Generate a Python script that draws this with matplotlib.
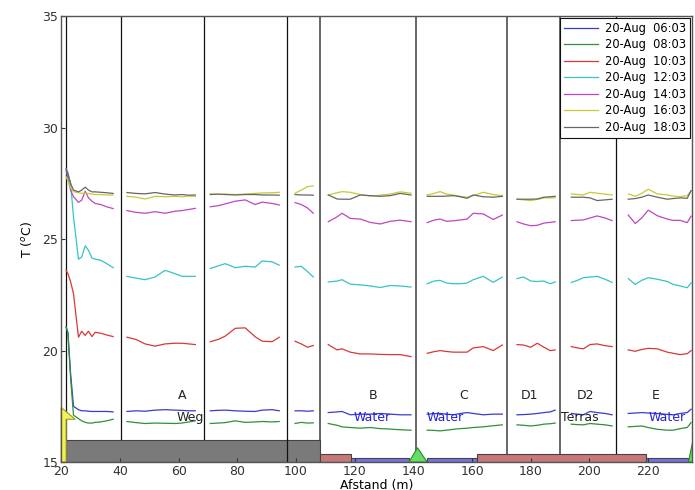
import matplotlib
matplotlib.use("Agg")
import matplotlib.pyplot as plt
import numpy as np
from matplotlib.patches import Rectangle, Polygon

plt.rcParams.update({
    "font.family": "DejaVu Sans", "font.size": 9,
    "xtick.direction": "in", "ytick.direction": "in",
    "xtick.major.size": 3, "ytick.major.size": 3,
})

# ---------- data: measurement segments (distance in m) ----------
X_SEGS = [
    [21.7, 22.3, 23.2, 24.2, 25.9, 27.0, 28.2, 29.3, 30.5, 31.6, 33.5, 35.5, 37.7],
    [42.4, 45.5, 48.6, 52.0, 55.4, 58.8, 61.1, 63.5, 65.7],
    [70.8, 73.5, 75.9, 79.3, 82.7, 86.1, 88.5, 91.9, 94.3],
    [99.7, 101.8, 103.9, 105.9],
    [111.0, 114.0, 115.7, 118.5, 121.9, 125.3, 128.7, 132.1, 135.5, 139.2],
    [144.7, 147.0, 149.1, 151.3, 153.6, 156.0, 158.3, 160.4, 163.8, 167.2, 170.3],
    [175.3, 177.5, 180.0, 182.2, 184.5, 186.6, 188.3],
    [193.8, 195.9, 197.9, 200.2, 202.6, 205.3, 207.7],
    [213.2, 215.6, 217.8, 220.0, 223.1, 226.5, 228.5, 230.9, 233.3, 234.6],
]

T_0603 = [
    [21.05, 20.8, 19.0, 17.5, 17.35, 17.3, 17.3, 17.28, 17.27, 17.27, 17.27, 17.27, 17.25],
    [17.27, 17.3, 17.28, 17.33, 17.35, 17.33, 17.32, 17.3, 17.3],
    [17.3, 17.32, 17.33, 17.3, 17.28, 17.27, 17.33, 17.35, 17.3],
    [17.3, 17.3, 17.28, 17.3],
    [17.22, 17.25, 17.27, 17.12, 17.15, 17.15, 17.18, 17.15, 17.12, 17.12],
    [17.15, 17.17, 17.18, 17.15, 17.12, 17.18, 17.22, 17.18, 17.12, 17.15, 17.15],
    [17.12, 17.13, 17.15, 17.18, 17.22, 17.25, 17.33],
    [17.18, 17.15, 17.12, 17.27, 17.22, 17.18, 17.12],
    [17.18, 17.2, 17.22, 17.2, 17.18, 17.14, 17.12, 17.18, 17.22, 17.37],
]
T_0803 = [
    [21.05, 20.8, 18.8, 17.1, 16.95, 16.85, 16.78, 16.75, 16.75, 16.78, 16.8, 16.85, 16.92],
    [16.82, 16.77, 16.73, 16.75, 16.74, 16.73, 16.75, 16.8, 16.85],
    [16.73, 16.75, 16.77, 16.85, 16.78, 16.8, 16.82, 16.8, 16.82],
    [16.73, 16.78, 16.75, 16.76],
    [16.73, 16.65, 16.58, 16.55, 16.52, 16.55, 16.5, 16.48, 16.45, 16.43],
    [16.43, 16.42, 16.4, 16.43, 16.47, 16.5, 16.52, 16.55, 16.58, 16.63, 16.67],
    [16.67, 16.65, 16.62, 16.65, 16.7, 16.72, 16.75],
    [16.7, 16.68, 16.67, 16.73, 16.7, 16.67, 16.62],
    [16.58, 16.6, 16.62, 16.55, 16.47, 16.43, 16.43, 16.5, 16.55, 16.77],
]
T_1003 = [
    [23.6, 23.45, 23.1, 22.55, 20.6, 20.87, 20.68, 20.87, 20.63, 20.82, 20.78, 20.7, 20.63],
    [20.6, 20.5, 20.3, 20.2, 20.3, 20.33, 20.33, 20.3, 20.27],
    [20.4, 20.5, 20.65, 21.0, 21.02, 20.62, 20.42, 20.4, 20.6],
    [20.42, 20.3, 20.15, 20.23],
    [20.27, 20.03, 20.08, 19.93, 19.85, 19.85, 19.83, 19.82, 19.82, 19.73],
    [19.88, 19.95, 20.0, 19.96, 19.93, 19.93, 19.93, 20.12, 20.18, 20.0, 20.25],
    [20.27, 20.25, 20.15, 20.33, 20.15, 20.0, 20.03],
    [20.18, 20.12, 20.08, 20.27, 20.3, 20.22, 20.18],
    [20.03, 19.97, 20.05, 20.1, 20.08, 19.93, 19.88, 19.82, 19.86, 20.0],
]
T_1203 = [
    [28.15, 28.0, 27.5, 26.0, 24.1, 24.2, 24.7, 24.5, 24.15, 24.1, 24.05, 23.9, 23.72],
    [23.33, 23.25, 23.18, 23.3, 23.6, 23.45, 23.33, 23.33, 23.33],
    [23.68, 23.8, 23.9, 23.72, 23.78, 23.75, 24.02, 23.98, 23.83],
    [23.75, 23.78, 23.55, 23.3],
    [23.08, 23.12, 23.18, 22.98, 22.95, 22.9, 22.83, 22.92, 22.9, 22.85],
    [23.0, 23.12, 23.15, 23.03, 23.0, 23.0, 23.03, 23.18, 23.33, 23.06, 23.3],
    [23.23, 23.3, 23.12, 23.1, 23.12, 23.0, 23.08],
    [23.06, 23.15, 23.27, 23.3, 23.33, 23.2, 23.06],
    [23.23, 22.97, 23.15, 23.27, 23.2, 23.1, 22.97, 22.9, 22.82, 23.03],
]
T_1403 = [
    [28.1, 27.7, 27.2, 26.9, 26.65, 26.75, 27.15, 26.85, 26.7, 26.6, 26.55, 26.45, 26.37],
    [26.28, 26.2, 26.16, 26.23, 26.16, 26.25, 26.28, 26.33, 26.38],
    [26.45, 26.5, 26.58, 26.7, 26.76, 26.55, 26.66, 26.6, 26.53],
    [26.64, 26.55, 26.4, 26.16],
    [25.78, 26.0, 26.16, 25.93, 25.9, 25.75, 25.68, 25.8, 25.85, 25.78],
    [25.74, 25.85, 25.9, 25.8, 25.82, 25.86, 25.9, 26.16, 26.13, 25.88, 26.08],
    [25.78, 25.68, 25.6, 25.62, 25.72, 25.75, 25.78],
    [25.83, 25.85, 25.86, 25.95, 26.04, 25.95, 25.83],
    [26.08, 25.7, 25.95, 26.3, 26.05, 25.9, 25.84, 25.84, 25.74, 26.03],
]
T_1603 = [
    [27.8, 27.6, 27.3, 27.13, 27.08, 27.05, 27.06, 27.05, 27.02, 27.0, 27.0, 26.98, 26.98],
    [26.92, 26.88, 26.8, 26.92, 26.9, 26.92, 26.9, 26.93, 26.92],
    [27.03, 27.0, 27.02, 27.0, 27.02, 27.05, 27.07, 27.08, 27.1],
    [27.06, 27.2, 27.35, 27.39],
    [26.98, 27.08, 27.13, 27.1, 27.0, 26.93, 26.97, 27.02, 27.12, 27.06],
    [26.98, 27.05, 27.13, 27.02, 26.98, 26.92, 26.88, 26.95, 27.1, 27.0, 26.95],
    [26.79, 26.76, 26.73, 26.78, 26.85, 26.85, 26.85],
    [27.03, 27.0, 26.98, 27.1, 27.06, 27.02, 26.98],
    [27.03, 26.92, 27.05, 27.24, 27.03, 26.98, 26.93, 26.9, 26.95, 27.17],
]
T_1803 = [
    [28.15, 27.9, 27.5, 27.2, 27.12, 27.2, 27.33, 27.2, 27.12, 27.12, 27.1, 27.08, 27.05],
    [27.09, 27.05, 27.03, 27.09, 27.02, 26.98, 27.0, 26.97, 26.98],
    [27.0, 27.02, 27.0, 26.98, 27.0, 27.0, 26.98, 26.98, 26.97],
    [27.0, 26.98, 26.98, 26.97],
    [26.98, 26.8, 26.79, 26.79, 26.98, 26.95, 26.92, 26.95, 27.05, 26.98],
    [26.92, 26.92, 26.92, 26.93, 26.95, 26.9, 26.83, 26.98, 26.9, 26.88, 26.92],
    [26.79, 26.79, 26.79, 26.8, 26.88, 26.9, 26.92],
    [26.88, 26.88, 26.88, 26.85, 26.73, 26.76, 26.79],
    [26.79, 26.82, 26.88, 26.98, 26.88, 26.79, 26.82, 26.85, 26.83, 27.17],
]

SERIES = [T_0603, T_0803, T_1003, T_1203, T_1403, T_1603, T_1803]
LABELS = ["20-Aug  06:03", "20-Aug  08:03", "20-Aug  10:03", "20-Aug  12:03",
          "20-Aug  14:03", "20-Aug  16:03", "20-Aug  18:03"]
COLORS = ["#3a3ad0", "#2f8f3a", "#d83838", "#35c4c4", "#c145c1", "#c9c937", "#666666"]

# section boundaries and names
BOUNDS_BLACK = [21.7, 40.4, 68.7, 97.0, 209.1]
BOUNDS_GREY = [108.2, 141.0, 172.0, 190.0]
SECTIONS = [("A", 61.2), ("B", 126.3), ("C", 157.1), ("D1", 179.5), ("D2", 198.6), ("E", 222.7)]
SURFACES = [("Weg", 64.1, "#222"), ("Water", 125.8, "#2222dd"), ("Water", 150.9, "#2222dd"),
            ("Terras", 196.6, "#222"), ("Water", 226.6, "#2222dd")]

# ground profile strips: (x0, x1, top, colour)
STRIPS = [(21.7, 108.2, 16.0, "#7a7a7a"),
          (108.2, 118.7, 15.38, "#c87878"),
          (118.7, 138.5, 15.17, "#7474e2"),
          (144.7, 161.6, 15.17, "#7474e2"),
          (161.6, 219.3, 15.38, "#c87878"),
          (219.3, 233.7, 15.17, "#7474e2")]
TRIANGLES = [(138.5, 144.7, 141.4, 15.64), (233.7, 236.9, 235.3, 16.0)]
WALL = [(20, 15), (20, 17.45), (24.77, 16.92), (21.7, 16.92), (21.7, 15)]

fig = plt.figure(figsize=(6.95, 4.9), dpi=100)
ax = fig.add_axes([0.088, 0.057, 0.908, 0.910])

for x0, x1, top, c in STRIPS:
    ax.add_patch(Rectangle((x0, 15), x1 - x0, top - 15, facecolor=c, edgecolor="#444",
                           lw=0.8, zorder=1.5))
for b0, b1, xa, ya in TRIANGLES:
    ax.add_patch(Polygon([(b0, 15), (xa, ya), (b1, 15)], closed=True, facecolor="#66dd66",
                         edgecolor="#2a8a2a", lw=0.8, zorder=1.6))
ax.add_patch(Polygon(WALL, closed=True, facecolor="#f2f255", edgecolor="#999933", lw=0.8,
                     zorder=1.6, clip_on=False))

for b in BOUNDS_BLACK:
    ax.axvline(b, color="#111", lw=0.9, zorder=1.2 if b != 97.0 else 1.8)
for b in BOUNDS_GREY:
    ax.axvline(b, color="#666", lw=1.4, zorder=1.2)

for ser, lab, c in zip(SERIES, LABELS, COLORS):
    xs, ys = [], []
    for xseg, yseg in zip(X_SEGS, ser):
        xs += list(xseg) + [np.nan]
        ys += list(yseg) + [np.nan]
    ax.plot(xs, ys, color=c, lw=0.9, label=lab, zorder=2)

for name, xc in SECTIONS:
    ax.text(xc, 17.97, name, ha="center", va="center", fontsize=9, color="#222")
for name, xc, c in SURFACES:
    ax.text(xc, 17.02, name, ha="center", va="center", fontsize=9, color=c)

ax.set_xlim(20, 235)
ax.set_ylim(15, 35)
ax.set_xticks(np.arange(20, 221, 20))
ax.set_yticks(np.arange(15, 36, 5))
ax.tick_params(colors="#333", labelsize=9, pad=2)
for s in ax.spines.values():
    s.set_color("#555")
    s.set_linewidth(1.0)
ax.set_xlabel("Afstand (m)", fontsize=9, labelpad=1)
ax.set_ylabel("T ($^o$C)", fontsize=9, labelpad=6)

leg = ax.legend(loc="upper right", fontsize=8.3, handlelength=3.0, handletextpad=0.6,
                labelspacing=0.3, borderaxespad=0.15, borderpad=0.35,
                fancybox=False, framealpha=1)
leg.get_frame().set_edgecolor("#111")
leg.get_frame().set_linewidth(0.8)

plt.savefig("out.png", dpi=100)
plt.close()
